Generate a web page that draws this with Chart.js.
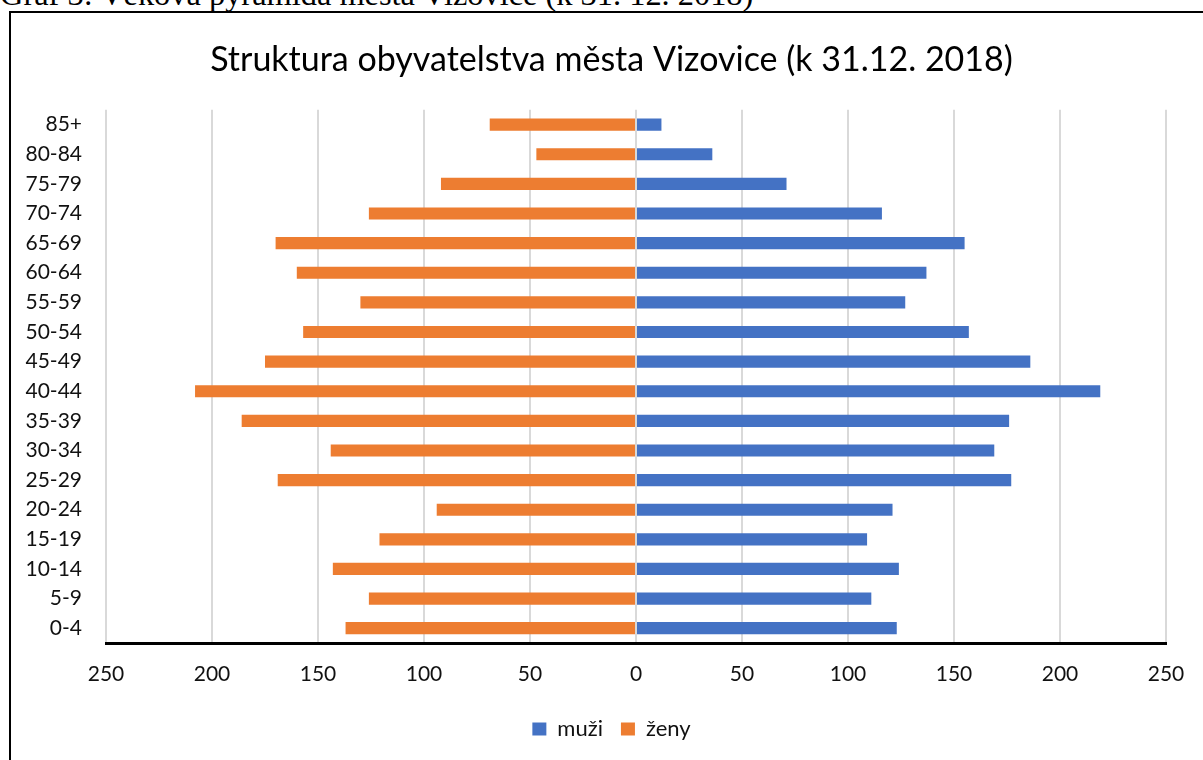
<!DOCTYPE html>
<html>
<head>
<meta charset="utf-8">
<script src="https://cdn.jsdelivr.net/npm/chart.js@4.4.0/dist/chart.umd.min.js"></script>
<style>
    html, body { margin: 0; padding: 0; background: #fff; overflow: hidden; }
    body { width: 1203px; height: 760px; position: relative; }
    #caption {
        position: absolute; left: 0; top: -22px;
        font-family: "Liberation Serif", "Times New Roman", serif;
        font-size: 32.4px; line-height: 1; white-space: nowrap; color: #000;
    }
    #frame {
        position: absolute; left: 9px; top: 11px; width: 1210px; height: 770px;
        border: 2px solid #000; box-sizing: border-box;
    }
    #wrap { position: absolute; left: 11px; top: 13px; width: 1201px; height: 747px; }
</style>
</head>
<body>
<div id="caption">Graf 3: Věková pyramida města Vizovice (k 31. 12. 2018)</div>
<div id="frame"></div>
<div id="wrap"><canvas id="pyramid"></canvas></div>
<script>
// age groups, youngest first (drawn bottom-up)
const ageGroups = ['0-4', '5-9', '10-14', '15-19', '20-24', '25-29', '30-34', '35-39', '40-44',
                   '45-49', '50-54', '55-59', '60-64', '65-69', '70-74', '75-79', '80-84', '85+'];

// muži (men)
const men = [123, 111, 124, 109, 121, 177, 169, 176, 219, 186, 157, 127, 137, 155, 116, 71, 36, 12];

// ženy (women)
const women = [137, 126, 143, 121, 94, 169, 144, 186, 208, 175, 157, 130, 160, 170, 126, 92, 47, 69];

const axisTicks = [-250, -200, -150, -100, -50, 0, 50, 100, 150, 200, 250];

const FONT = 'Lato, "Open Sans", sans-serif';

const ctx = document.getElementById('pyramid');
const pyramidChart = new Chart(ctx, {
    type: 'bar',
    data: {
        labels: ageGroups,
        datasets: [
            {
                label: 'muži',
                data: men,
                backgroundColor: '#4472C4',
                borderWidth: 0,
                barPercentage: 0.41,
                categoryPercentage: 1
            },
            {
                label: 'ženy',
                // women go to the left side of the pyramid
                data: women.map(v => -v),
                backgroundColor: '#ED7D31',
                borderWidth: 0,
                barPercentage: 0.41,
                categoryPercentage: 1
            }
        ]
    },
    options: {
        indexAxis: 'y',
        responsive: true,
        maintainAspectRatio: false,
        animation: false,
        layout: { padding: { left: 0, right: 0, top: 0, bottom: 10 } },
        plugins: {
            title: {
                display: true,
                text: 'Struktura obyvatelstva města Vizovice (k 31.12. 2018)',
                color: '#000',
                font: { family: FONT, size: 34, weight: 'normal' },
                padding: { top: 27, bottom: 29 }
            },
            legend: {
                position: 'bottom',
                labels: {
                    color: '#111',
                    font: { family: FONT, size: 22 },
                    boxWidth: 14,
                    boxHeight: 13,
                    padding: 18
                }
            },
            tooltip: { enabled: false }
        },
        scales: {
            x: {
                stacked: true,
                min: -250,
                max: 250,
                afterBuildTicks: scale => {
                    scale.ticks = axisTicks.map(v => ({ value: v }));
                },
                afterFit: scale => { scale.height = 57; },
                ticks: {
                    color: '#111',
                    font: { family: FONT, size: 21 },
                    padding: 19,
                    maxRotation: 0,
                    callback: v => Math.abs(v)
                },
                grid: {
                    color: '#D9D9D9',
                    lineWidth: 2,
                    drawTicks: false
                },
                border: { display: true, color: '#000', width: 3 }
            },
            y: {
                stacked: true,
                reverse: true,
                afterFit: scale => { scale.width = 95; },
                ticks: {
                    color: '#111',
                    font: { family: FONT, size: 21 },
                    padding: 24,
                    autoSkip: false
                },
                grid: { display: false, drawTicks: false },
                border: { display: false }
            },
            // empty right-hand spacer so the plot ends where the reference does
            spacer: {
                type: 'linear',
                position: 'right',
                afterFit: scale => { scale.width = 46; },
                ticks: { display: false },
                grid: { display: false, drawTicks: false },
                border: { display: false }
            }
        }
    }
});
</script>
</body>
</html>
